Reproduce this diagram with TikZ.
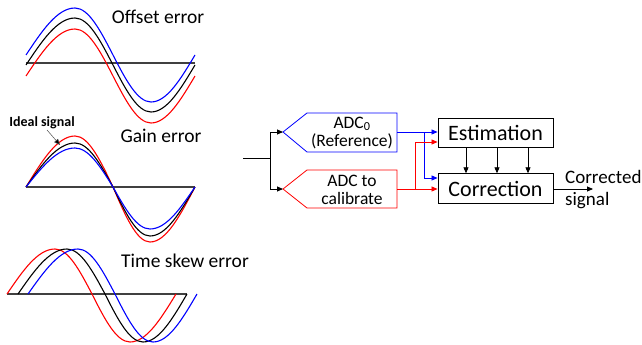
\documentclass[tikz,border=0pt]{standalone}
\usepackage{fontspec}
\setmainfont{Carlito}
\usetikzlibrary{arrows.meta}
\begin{document}
\begin{tikzpicture}[x=1pt,y=-1pt,
  wave/.style={line width=1.1pt},
  axisline/.style={line width=1.2pt,draw=black!75},
  lbl/.style={font=\fontsize{19.5}{22}\selectfont,inner sep=0pt},
  adctext/.style={font=\fontsize{17.5}{18.5}\selectfont,align=center,inner sep=0pt},
  blk/.style={draw,line width=0.9pt,minimum width=115pt,minimum height=29.5pt,font=\fontsize{22}{24}\selectfont,inner sep=0pt},
  conn/.style={line width=0.8pt,-{Triangle[length=6pt,width=5pt]}},
  plain/.style={line width=0.8pt}]
\useasboundingbox (0,0) rectangle (642,345);
% ---------- Offset error ----------
\draw[axisline] (26,63) -- (195,63);
\draw[wave,blue] (26,55) sin (75,8) cos (113,55) sin (151,102) cos (195,55);
\draw[wave,black] (26,65) sin (75,18) cos (113,65) sin (151,112) cos (195,65);
\draw[wave,red] (26,76) sin (75,29) cos (113,76) sin (151,123) cos (195,76);
\node[lbl] (toff) at (158,17) {Offset error};
% ---------- Gain error ----------
\draw[axisline] (26,187) -- (195,187);
\draw[wave,red] (26,187) sin (75,136) cos (113,187) sin (150,242) cos (195,187);
\draw[wave,black] (26,187) sin (75,143) cos (113,187) sin (150,236) cos (195,187);
\draw[wave,blue] (26,187) sin (75,148) cos (113,187) sin (150,229) cos (195,187);
\node[lbl] (tgain) at (161,136) {Gain error};
\node[inner sep=0pt,font=\bfseries\fontsize{14}{16}\selectfont] (ideal) at (42,123) {Ideal signal};
\coordinate (idealtip) at (60,145);
\draw[line width=0.5pt,draw=black!70,-{Triangle[length=6pt,width=5pt,fill=black]}] (47,130) -- (idealtip);
% ---------- Time skew error ----------
\draw[axisline] (7,294) -- (187,294);
\draw[wave,red] (7,294) sin (55,249) cos (92,294) sin (130,342) cos (176,294);
\draw[wave,black] (18,294) sin (67,249) cos (105,294) sin (143,342) cos (187,294);
\draw[wave,blue] (28,294) sin (78,249) cos (115,294) sin (153,342) cos (197,294);
\node[lbl] (tskew) at (185,261) {Time skew error};
% ---------- ADC blocks ----------
\coordinate (a0tip) at (283,132);
\draw[plain,blue] (a0tip) -- (307,113) -- (397,113) -- (397,152) -- (307,152) -- cycle;
\node[adctext] (adc0) at (352,133) {ADC\textsubscript{0}\\(Reference)};
\coordinate (a0out) at (397,132);
\coordinate (a1tip) at (283,189);
\draw[plain,red] (a1tip) -- (307,170) -- (397,170) -- (397,208) -- (307,208) -- cycle;
\node[adctext] (adc1) at (352,190) {ADC to\\calibrate};
\coordinate (a1out) at (397,189);
% ---------- input split ----------
\coordinate (in) at (243,158);
\coordinate (split) at (270,158);
\draw[plain] (in) -- (split);
\draw[conn] (split) |- (a0tip);
\draw[conn] (split) |- (a1tip);
% ---------- Estimation / Correction ----------
\node[blk] (est) at (495.5,133) {Estimation};
\node[blk] (cor) at (495.5,188.5) {Correction};
\coordinate (bsplit) at (424,132);
\coordinate (rsplit) at (415,189);
\draw[conn,blue] (a0out) -- (est.west |- a0out);
\draw[conn,blue] (bsplit) |- (cor.west |- 0,178);
\draw[conn,red] (a1out) -- (cor.west |- a1out);
\draw[conn,red] (rsplit) |- (est.west |- 0,142);
\foreach \xx in {466,497,528}
  \draw[conn] (est.south -| \xx,0) -- (cor.north -| \xx,0);
\coordinate (outtip) at (593,189);
\draw[conn] (cor.east |- outtip) -- (outtip);
\node[lbl,anchor=west,align=left,font=\fontsize{19}{21.5}\selectfont] (outlbl) at (565,189.5) {Corrected\\signal};
\end{tikzpicture}
\end{document}
